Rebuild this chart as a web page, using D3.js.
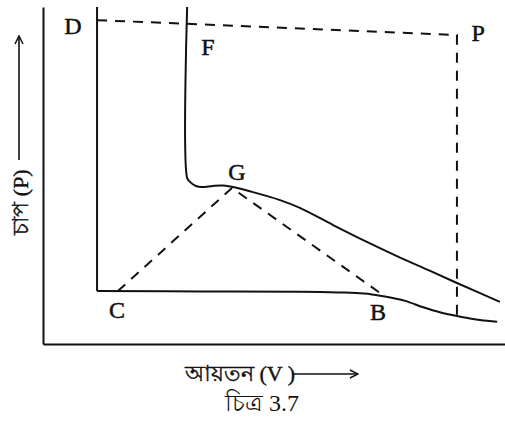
<!DOCTYPE html>
<html>
<head>
<meta charset="utf-8">
<script src="https://cdn.jsdelivr.net/npm/d3@7"></script>
<style>
  html, body { margin: 0; padding: 0; background: #fff; }
  svg { display: block; }
  text { font-family: "Liberation Serif", "DejaVu Serif", serif; fill: #111; }
</style>
</head>
<body>
<div id="chart"></div>
<script>
// Andrews-type isotherms, values in arbitrary units (V 0-100, P 0-100)

// liquid branch D -> C
const liquidV = [11.7, 11.7];
const liquidP = [100, 15.7];

// lower isotherm C -> B -> gas
const lowV = [11.7, 34.0, 55.6, 64.0, 69.5, 73.6, 78.4, 82.3, 85.9, 90.3, 94.6, 98.3];
const lowP = [15.7, 15.6, 15.5, 15.3, 15.0, 14.2, 12.8, 10.9, 9.4, 8.1, 7.1, 6.6];

// critical isotherm F -> G -> gas
const critV = [31.2, 31.2, 31.8, 33.1, 34.4, 36.8, 39.0, 41.1, 44.8, 51.3, 55.6, 62.8, 70.1, 76.6, 83.8, 89.6, 94.6, 98.9];
const critP = [100, 49.3, 48.1, 46.9, 46.6, 46.9, 47.0, 46.6, 45.3, 42.7, 40.4, 35.3, 30.3, 26.1, 21.7, 18.1, 15.1, 12.5];

// dashed boundary D -> P -> down
const bordV = [11.7, 89.6, 89.6];
const bordP = [96.1, 91.7, 8.0];

// dashed dome C -> G -> B
const domeV = [16.2, 40.9, 73.6];
const domeP = [15.7, 46.3, 14.5];

// point labels
const labelNames = ["D", "F", "P", "G", "C", "B"];
const labelV = [6.5, 35.7, 94.2, 42.0, 16.0, 72.5];
const labelP = [94.4, 88.1, 92.3, 51.0, 10.1, 9.5];

const yTitle = "চাপ (P)";
const xTitle = "আয়তন (V )";
const caption = "চিত্র 3.7";

const width = 505, height = 425;
const x = d3.scaleLinear().domain([0, 100]).range([43, 505]);
const y = d3.scaleLinear().domain([0, 100]).range([344, 7]);

const svg = d3.select('#chart').append('svg')
  .attr('width', width).attr('height', height);

const defs = svg.append('defs');
defs.append('marker').attr('id', 'arr')
  .attr('viewBox', '0 0 10 10').attr('refX', 9).attr('refY', 5)
  .attr('markerWidth', 10).attr('markerHeight', 10).attr('markerUnits', 'userSpaceOnUse')
  .attr('orient', 'auto')
  .append('path').attr('d', 'M1,1 L9,5 L1,9').attr('fill', 'none')
  .attr('stroke', '#111').attr('stroke-width', 1.5);

// axes, no ticks
svg.append('g').attr('transform', `translate(${x(0)},0)`)
  .call(d3.axisLeft(y).tickValues([]).tickSizeOuter(0))
  .select('.domain').attr('stroke', '#111').attr('stroke-width', 2);
svg.append('g').attr('transform', `translate(0,${y(0)})`)
  .call(d3.axisBottom(x).tickValues([]).tickSizeOuter(0))
  .select('.domain').attr('stroke', '#111').attr('stroke-width', 2);

const zip = (vs, ps) => vs.map((v, i) => [v, ps[i]]);
const line = d3.line().x(d => x(d[0])).y(d => y(d[1]));
const smooth = d3.line().x(d => x(d[0])).y(d => y(d[1])).curve(d3.curveCatmullRom.alpha(0.5));
const mono = d3.line().x(d => x(d[0])).y(d => y(d[1])).curve(d3.curveMonotoneX);

svg.append('path').attr('d', line(zip(liquidV, liquidP)))
  .attr('fill', 'none').attr('stroke', '#111').attr('stroke-width', 2);
svg.append('path').attr('d', mono(zip(lowV, lowP)))
  .attr('fill', 'none').attr('stroke', '#111').attr('stroke-width', 2);
svg.append('path').attr('d', smooth(zip(critV, critP)))
  .attr('fill', 'none').attr('stroke', '#111').attr('stroke-width', 2);

svg.append('path').attr('d', line(zip(bordV, bordP)))
  .attr('fill', 'none').attr('stroke', '#111').attr('stroke-width', 2)
  .attr('stroke-dasharray', '10,8');
svg.append('path').attr('d', line(zip(domeV, domeP)))
  .attr('fill', 'none').attr('stroke', '#111').attr('stroke-width', 2)
  .attr('stroke-dasharray', '10,8');

// letters
labelNames.forEach((t, i) => {
  svg.append('text')
    .attr('x', x(labelV[i])).attr('y', y(labelP[i]))
    .attr('text-anchor', 'middle').attr('dominant-baseline', 'central')
    .attr('font-size', 24).attr('stroke', '#111').attr('stroke-width', 0.5)
    .text(t);
});

// y title, rotated, with long arrow
svg.append('text')
  .attr('transform', 'translate(28,202) rotate(-90)')
  .attr('text-anchor', 'middle').attr('font-size', 22)
  .attr('stroke', '#111').attr('stroke-width', 0.4)
  .text(yTitle);
svg.append('line')
  .attr('x1', 19).attr('y1', 160).attr('x2', 19).attr('y2', 36)
  .attr('stroke', '#111').attr('stroke-width', 1.6).attr('marker-end', 'url(#arr)');

// x title with arrow
svg.append('text')
  .attr('x', 185).attr('y', 381).attr('font-size', 22)
  .attr('stroke', '#111').attr('stroke-width', 0.4)
  .text(xTitle);
svg.append('line')
  .attr('x1', 292).attr('y1', 374).attr('x2', 358).attr('y2', 374)
  .attr('stroke', '#111').attr('stroke-width', 1.6).attr('marker-end', 'url(#arr)');

svg.append('text')
  .attr('x', 262).attr('y', 411).attr('text-anchor', 'middle').attr('font-size', 24)
  .text(caption);
</script>
</body>
</html>
